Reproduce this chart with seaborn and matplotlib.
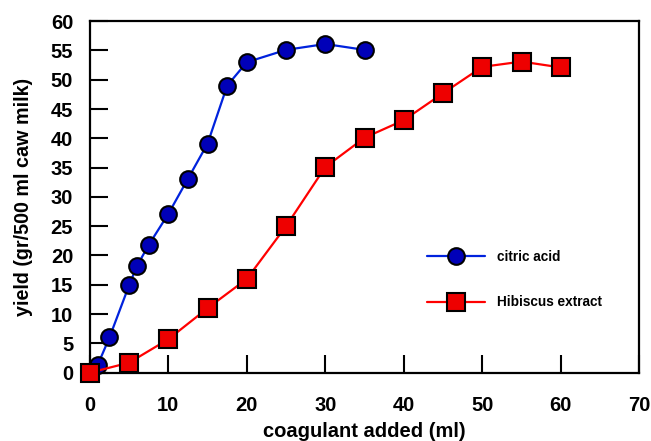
import numpy as np
import pandas as pd
import matplotlib
matplotlib.use("Agg")
import matplotlib.pyplot as plt
import seaborn as sns

# data
citric_x = [0, 1, 2.5, 5, 6, 7.5, 10, 12.5, 15, 17.5, 20, 25, 30, 35]
citric_y = [0, 1.3, 6, 14.9, 18.2, 21.8, 27.1, 33.1, 39.1, 49, 53, 55.1, 56.1, 55.1]

hibiscus_x = [0, 5, 10, 15, 20, 25, 30, 35, 40, 45, 50, 55, 60]
hibiscus_y = [0, 1.7, 5.7, 11, 16, 25, 35.1, 40.1, 43.1, 47.7, 52.2, 53.1, 52.1]

x_ticks = [0, 10, 20, 30, 40, 50, 60, 70]
y_ticks = [0, 5, 10, 15, 20, 25, 30, 35, 40, 45, 50, 55, 60]

sns.set_style("ticks")
plt.rcParams['font.family'] = ['Liberation Sans', 'DejaVu Sans']
plt.rcParams['font.weight'] = 'bold'
plt.rcParams['text.color'] = 'black'
plt.rcParams['axes.labelcolor'] = 'black'
plt.rcParams['xtick.color'] = 'black'
plt.rcParams['ytick.color'] = 'black'
plt.rcParams['axes.edgecolor'] = 'black'

fig, ax = plt.subplots(figsize=(6.51, 4.41), dpi=100)
fig.subplots_adjust(left=0.138, right=0.982, bottom=0.155, top=0.952)

sns.lineplot(x=citric_x, y=citric_y, ax=ax, color="#0022dd", linewidth=1.6,
             marker="o", markersize=12, markerfacecolor="#0000b8",
             markeredgecolor="black", markeredgewidth=1.5,
             label="citric acid", zorder=3, clip_on=False)
sns.lineplot(x=hibiscus_x, y=hibiscus_y, ax=ax, color="#ff0000", linewidth=1.6,
             marker="s", markersize=13, markerfacecolor="#ee0000",
             markeredgecolor="black", markeredgewidth=1.5,
             label="Hibiscus extract", zorder=4, clip_on=False)

ax.set_xlim(0, 70)
ax.set_ylim(0, 60)
ax.set_xticks(x_ticks)
ax.set_yticks(y_ticks)
ax.tick_params(direction="in", length=13, width=1.5, labelsize=14.5)
ax.tick_params(axis="y", pad=12)
ax.tick_params(axis="x", pad=17)
for s in ax.spines.values():
    s.set_linewidth(1.6)
    s.set_visible(True)
for lab in ax.get_xticklabels() + ax.get_yticklabels():
    lab.set_fontweight("bold")

ax.set_xlabel("coagulant added (ml)", fontsize=14.5, fontweight="bold", labelpad=5)
ax.set_ylabel("yield (gr/500 ml caw milk)", fontsize=14.2, fontweight="bold", labelpad=13)

leg = ax.legend(loc="center left", bbox_to_anchor=(0.613, 0.265), frameon=False,
                fontsize=9.8, handlelength=4.3, numpoints=1, labelspacing=2.35,
                borderpad=0, borderaxespad=0, handletextpad=0.9)
for t in leg.get_texts():
    t.set_fontweight("bold")

plt.savefig("out.png", dpi=100)
